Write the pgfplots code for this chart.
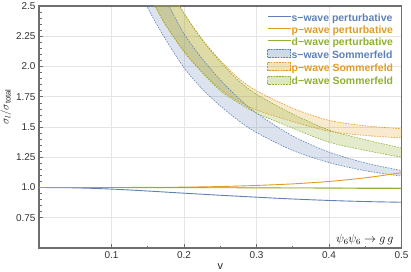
\documentclass[border=0pt]{standalone}
\usepackage{fontspec}
\setmainfont{Liberation Sans}
\usepackage{amsmath}
\usepackage{pgfplots}
\usepackage{pgfplotstable}
\pgfplotsset{compat=1.18}
\usepgfplotslibrary{fillbetween}

\definecolor{mblue}{rgb}{0.368417,0.506779,0.709798}
\definecolor{morange}{rgb}{0.880722,0.611041,0.142051}
\definecolor{mgreen}{rgb}{0.560181,0.691569,0.194885}
\definecolor{framegray}{RGB}{110,110,110}
\definecolor{gridgray}{RGB}{228,228,228}

% s-wave Sommerfeld band
\pgfplotstableread{
v lo hi
0.13 2.740 3.163
0.14 2.609 3.009
0.15 2.486 2.865
0.16 2.373 2.733
0.175 2.220 2.550
0.2 1.990 2.270
0.225 1.815 2.065
0.25 1.675 1.890
0.275 1.554 1.740
0.3 1.454 1.615
0.35 1.306 1.425
0.4 1.206 1.293
0.45 1.139 1.203
0.5 1.094 1.140
}\sband
% p-wave Sommerfeld band
\pgfplotstableread{
v lo hi
0.15 2.613 3.000
0.16 2.500 2.870
0.175 2.340 2.690
0.2 2.130 2.440
0.225 1.955 2.226
0.25 1.815 2.050
0.275 1.715 1.905
0.3 1.640 1.800
0.35 1.545 1.655
0.4 1.465 1.555
0.45 1.430 1.510
0.5 1.410 1.486
}\pband
% d-wave Sommerfeld band
\pgfplotstableread{
v lo hi
0.15 2.613 3.000
0.16 2.500 2.870
0.175 2.340 2.690
0.2 2.120 2.440
0.225 1.950 2.220
0.25 1.800 2.040
0.275 1.700 1.885
0.3 1.615 1.770
0.35 1.490 1.607
0.4 1.375 1.475
0.45 1.307 1.395
0.5 1.250 1.326
}\dband
% perturbative
\pgfplotstableread{
v s p d
0.0 1.000 1.000 1.000
0.05 0.997 1.000 1.000
0.1 0.987 1.000 1.000
0.15 0.971 1.001 0.999
0.2 0.953 1.003 0.999
0.25 0.936 1.008 0.998
0.3 0.920 1.017 0.997
0.35 0.905 1.030 0.996
0.4 0.893 1.050 0.995
0.45 0.884 1.080 0.993
0.5 0.878 1.122 0.992
}\pert

\begin{document}
\begin{tikzpicture}
\begin{axis}[
  width=362.5bp, height=242bp, scale only axis,
  xmin=0, xmax=0.5, ymin=0.5, ymax=2.5,
  xtick={0.1,0.2,0.3,0.4,0.5},
  xticklabels={0.1,0.2,0.3,0.4,0.5},
  ytick={0.75,1,1.25,1.5,1.75,2,2.25,2.5},
  yticklabels={0.75,1.0,1.25,1.5,1.75,2.0,2.25,2.5},
  minor x tick num=1, minor y tick num=4,
  xtick pos=bottom, ytick pos=left,
  tick align=inside,
  major tick length=4bp, minor tick length=2.5bp,
  tick style={draw=framegray, line width=0.6pt},
  axis line style={draw=framegray, line width=1.1pt},
  grid=major,
  major grid style={draw=gridgray, line width=0.6pt},
  ticklabel style={font=\fontsize{10}{12}\selectfont, text=black!80},
  /pgf/number format/assume math mode=true,
  xlabel={v}, ylabel={$\sigma_l/\sigma_{\text{total}}$},
  every axis x label/.style={at={(axis description cs:0.5,-0.088)}, anchor=base},
  every axis y label/.style={at={(axis description cs:-0.091,0.583)}, rotate=90, anchor=center},
  label style={font=\fontsize{11}{13}\selectfont, text=black!85},
  legend style={at={(0.629,0.971)}, anchor=north west, draw=none, fill=none,
    font=\fontsize{10.5}{12}\selectfont\bfseries, inner sep=0pt,
    row sep=1.0pt,
    nodes={inner sep=0.5pt, text height=7.5pt, text depth=2.5pt}},
  legend cell align=left,
  clip=true,
]
% bands
\addplot[forget plot, name path=slo, draw=mblue, line width=0.6pt, dash pattern=on 1.6pt off 1.2pt, smooth] table[x=v,y=lo]{\sband};
\addplot[forget plot, name path=shi, draw=mblue, line width=0.6pt, dash pattern=on 1.6pt off 1.2pt, smooth] table[x=v,y=hi]{\sband};
\addplot[forget plot, fill=mblue, fill opacity=0.22, draw=none] fill between[of=slo and shi];

\addplot[forget plot, name path=plo, draw=morange, line width=0.6pt, dash pattern=on 1.6pt off 1.2pt, smooth] table[x=v,y=lo]{\pband};
\addplot[forget plot, name path=phi, draw=morange, line width=0.6pt, dash pattern=on 1.6pt off 1.2pt, smooth] table[x=v,y=hi]{\pband};
\addplot[forget plot, fill=morange, fill opacity=0.22, draw=none] fill between[of=plo and phi];

\addplot[forget plot, name path=dlo, draw=mgreen, line width=0.6pt, dash pattern=on 1.6pt off 1.2pt, smooth] table[x=v,y=lo]{\dband};
\addplot[forget plot, name path=dhi, draw=mgreen, line width=0.6pt, dash pattern=on 1.6pt off 1.2pt, smooth] table[x=v,y=hi]{\dband};
\addplot[forget plot, fill=mgreen, fill opacity=0.25, draw=none] fill between[of=dlo and dhi];

% perturbative
\addplot[forget plot, mblue, line width=0.9pt, smooth] table[x=v,y=s]{\pert};
\addplot[forget plot, morange, line width=0.9pt, smooth] table[x=v,y=p]{\pert};
\addplot[forget plot, mgreen, line width=0.9pt, smooth] table[x=v,y=d]{\pert};

% legend
\addlegendimage{legend image code/.code={\draw[mblue,line width=0.9pt] (0bp,2.5bp) -- (23bp,2.5bp);}}
\addlegendentry{\textcolor{mblue}{s−wave perturbative}}
\addlegendimage{legend image code/.code={\draw[morange,line width=0.9pt] (0bp,2.5bp) -- (23bp,2.5bp);}}
\addlegendentry{\textcolor{morange}{p−wave perturbative}}
\addlegendimage{legend image code/.code={\draw[mgreen,line width=0.9pt] (0bp,2.5bp) -- (23bp,2.5bp);}}
\addlegendentry{\textcolor{mgreen}{d−wave perturbative}}
\addlegendimage{legend image code/.code={\fill[mblue,opacity=0.3] (0bp,-1.5bp) rectangle (23bp,6.5bp); \draw[mblue,line width=0.6pt,dash pattern=on 1.6pt off 1.2pt] (0bp,-1.5bp) rectangle (23bp,6.5bp);}}
\addlegendentry{\textcolor{mblue}{s−wave Sommerfeld}}
\addlegendimage{legend image code/.code={\fill[morange,opacity=0.3] (0bp,-1.5bp) rectangle (23bp,6.5bp); \draw[morange,line width=0.6pt,dash pattern=on 1.6pt off 1.2pt] (0bp,-1.5bp) rectangle (23bp,6.5bp);}}
\addlegendentry{\textcolor{morange}{p−wave Sommerfeld}}
\addlegendimage{legend image code/.code={\fill[mgreen,opacity=0.3] (0bp,-1.5bp) rectangle (23bp,6.5bp); \draw[mgreen,line width=0.6pt,dash pattern=on 1.6pt off 1.2pt] (0bp,-1.5bp) rectangle (23bp,6.5bp);}}
\addlegendentry{\textcolor{mgreen}{d−wave Sommerfeld}}

\node[anchor=base east, font=\fontsize{12}{14}\selectfont] at (rel axis cs:0.9876,0.021) {$\psi_6\psi_6\to g\,g$};
\end{axis}
\pgfresetboundingbox
\path[use as bounding box] ([shift={(-39bp,-23bp)}]current axis.south west) rectangle ([shift={(9.5bp,6bp)}]current axis.north east);
\end{tikzpicture}
\end{document}
